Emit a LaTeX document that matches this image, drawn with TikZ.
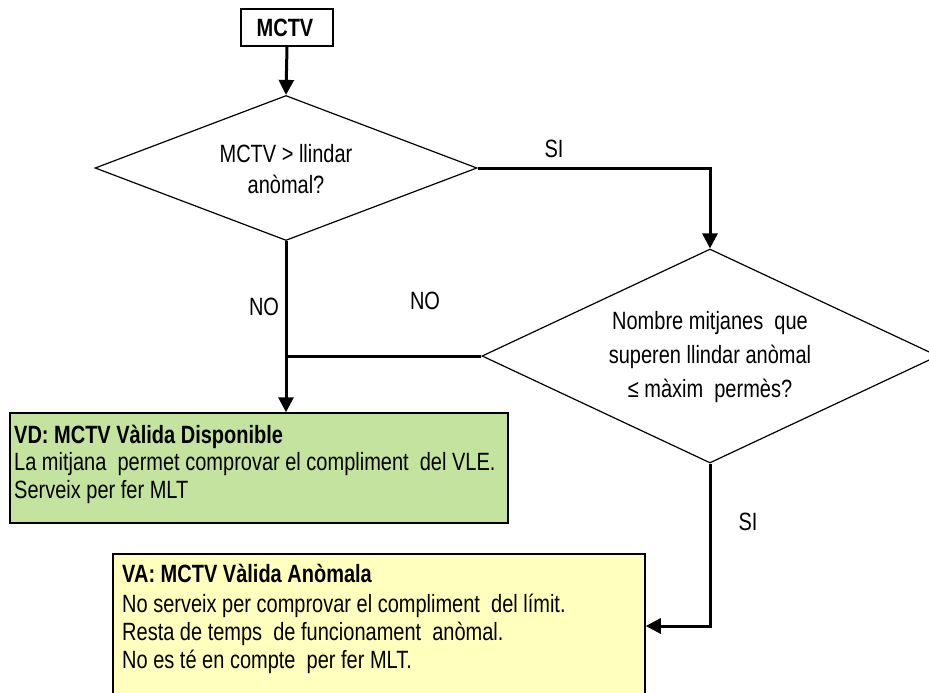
\documentclass[tikz,border=0pt]{standalone}
\usepackage{fontspec}
\setmainfont{Liberation Sans}[FakeStretch=0.8]
\usetikzlibrary{shapes.geometric,arrows.meta}
\definecolor{vdgreen}{RGB}{196,227,158}
\definecolor{vayellow}{RGB}{255,255,190}
\begin{document}
\begin{tikzpicture}[x=1pt,y=-1pt,
  font=\fontsize{25}{29}\selectfont,
  conn/.style={line width=3pt,-{Triangle[length=15pt,width=15pt]}},
  plainconn/.style={line width=3pt},
  decision/.style={diamond,draw,line width=1.2pt,inner sep=0pt},
  ctext/.style={inner sep=0pt,anchor=base},
  ltext/.style={inner sep=0pt,anchor=base west},
  startbox/.style={draw,line width=2pt,inner sep=0pt,minimum width=92pt,minimum height=37pt},
  resbox/.style={draw,line width=1.5pt,inner sep=0pt}
]
\useasboundingbox (0,0) rectangle (929,693);
\clip (0,0) rectangle (929,693);

% start box
\node[startbox] (mctv) at (287,27.5) {};
\node[ctext] (mctvt) at (285,37) {\bfseries MCTV};

% decision 1
\node[decision,minimum width=382pt,minimum height=145pt] (d1) at (286,168) {};
\node[ctext] (d1a) at (286,162) {MCTV > llindar};
\node[ctext] (d1b) at (286,193) {anòmal?};

% decision 2
\node[decision,minimum width=456pt,minimum height=214pt] (d2) at (710,356) {};
\node[ctext] (d2a) at (710,329) {Nombre mitjanes\ \ que};
\node[ctext] (d2b) at (710,363) {superen llindar anòmal};
\node[ctext] (d2c) at (710,397) {≤ màxim\ \ permès?};

% VD box
\node[resbox,fill=vdgreen,minimum width=498pt,minimum height=110pt] (vd) at (259,468) {};
\node[ltext] (vd1) at (14,443) {\bfseries VD: MCTV Vàlida Disponible};
\node[ltext] (vd2) at (14,470) {La mitjana\ \ permet comprovar el compliment\ \ del VLE.};
\node[ltext] (vd3) at (14,498) {Serveix per fer MLT};

% VA box
\node[resbox,fill=vayellow,minimum width=532pt,minimum height=144pt] (va) at (379,626) {};
\node[ltext] (va1) at (122,582) {\bfseries VA: MCTV Vàlida Anòmala};
\node[ltext] (va2) at (122,612) {No serveix per comprovar el compliment\ \ del límit.};
\node[ltext] (va3) at (122,640) {Resta de temps\ \ de funcionament\ \ anòmal.};
\node[ltext] (va4) at (122,668) {No es té en compte\ \ per fer MLT.};

% connectors
\draw[conn] (mctv.south) -- (d1.north);
\draw[conn] (d1.east) -| (d2.north);
\draw[conn] (d1.south) -- (d1.south |- vd.north);
\draw[plainconn] (d2.west) -- (d2.west -| d1.south);
\draw[conn] (d2.south) |- (va.east);

% labels
\node[ctext] (si1) at (554,157) {SI};
\node[ctext] (no1) at (264,315) {NO};
\node[ctext] (no2) at (425,309) {NO};
\node[ctext] (si2) at (748,530) {SI};
\end{tikzpicture}
\end{document}
